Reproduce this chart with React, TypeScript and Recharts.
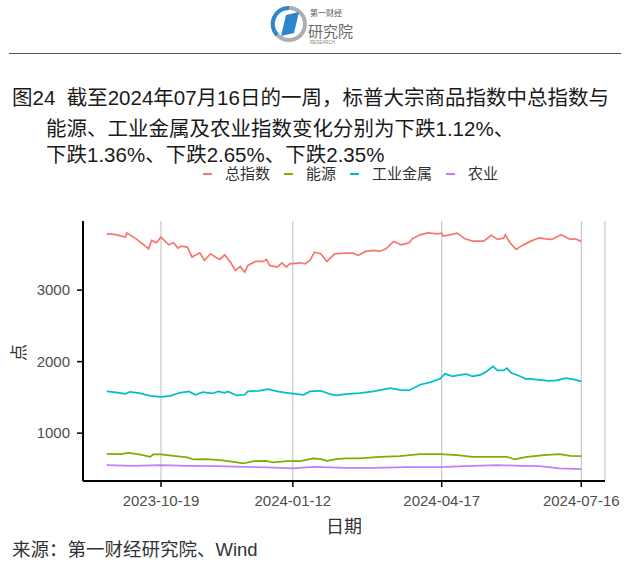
import React from "react";
import { LineChart, Line, XAxis, YAxis, CartesianGrid } from "recharts";

const FONT = '"Liberation Sans", "Noto Sans CJK SC", sans-serif';

const dateTicks = ["2023-10-19", "2024-01-12", "2024-04-17", "2024-07-16"];
const valueTicks = [1000, 2000, 3000];

// [date, index points]
const totalIndex: [string, number][] = [
  ["2023-09-14", 3787], ["2023-09-19", 3779], ["2023-09-26", 3741], ["2023-09-27", 3797],
  ["2023-10-03", 3717], ["2023-10-11", 3578], ["2023-10-13", 3695], ["2023-10-16", 3662],
  ["2023-10-19", 3741], ["2023-10-24", 3634], ["2023-10-27", 3662], ["2023-10-30", 3587],
  ["2023-11-01", 3615], ["2023-11-05", 3601], ["2023-11-08", 3462], ["2023-11-13", 3522],
  ["2023-11-16", 3415], ["2023-11-20", 3508], ["2023-11-24", 3448], ["2023-11-26", 3429],
  ["2023-11-29", 3494], ["2023-12-03", 3382], ["2023-12-06", 3275], ["2023-12-09", 3331],
  ["2023-12-12", 3252], ["2023-12-14", 3345], ["2023-12-19", 3401], ["2023-12-24", 3401],
  ["2023-12-26", 3429], ["2023-12-28", 3345], ["2024-01-02", 3322], ["2024-01-05", 3382],
  ["2024-01-08", 3322], ["2024-01-10", 3368], ["2024-01-17", 3382], ["2024-01-20", 3368],
  ["2024-01-23", 3415], ["2024-01-26", 3531], ["2024-01-30", 3508], ["2024-02-03", 3401],
  ["2024-02-08", 3508], ["2024-02-15", 3517], ["2024-02-20", 3517], ["2024-02-23", 3485],
  ["2024-02-28", 3541], ["2024-03-04", 3555], ["2024-03-08", 3541], ["2024-03-12", 3578],
  ["2024-03-17", 3681], ["2024-03-22", 3634], ["2024-03-27", 3662], ["2024-03-29", 3717],
  ["2024-04-03", 3773], ["2024-04-08", 3801], ["2024-04-14", 3787], ["2024-04-17", 3797],
  ["2024-04-18", 3755], ["2024-04-22", 3773], ["2024-04-27", 3797], ["2024-05-02", 3717],
  ["2024-05-07", 3685], ["2024-05-14", 3685], ["2024-05-19", 3765], ["2024-05-23", 3709],
  ["2024-05-27", 3727], ["2024-05-28", 3773], ["2024-05-31", 3662], ["2024-06-04", 3569],
  ["2024-06-08", 3625], ["2024-06-13", 3681], ["2024-06-19", 3731], ["2024-06-23", 3717],
  ["2024-06-27", 3709], ["2024-07-03", 3773], ["2024-07-09", 3709], ["2024-07-12", 3717],
  ["2024-07-16", 3681],
];

const energy: [string, number][] = [
  ["2023-09-14", 710], ["2023-09-23", 706], ["2023-09-28", 724], ["2023-10-05", 702],
  ["2023-10-12", 669], ["2023-10-14", 702], ["2023-10-19", 702], ["2023-10-27", 683],
  ["2023-11-05", 660], ["2023-11-09", 632], ["2023-11-17", 636], ["2023-11-26", 622],
  ["2023-12-05", 599], ["2023-12-11", 576], ["2023-12-18", 608], ["2023-12-26", 613],
  ["2023-12-30", 590], ["2024-01-08", 608], ["2024-01-17", 608], ["2024-01-25", 646],
  ["2024-01-30", 636], ["2024-02-03", 613], ["2024-02-09", 636], ["2024-02-15", 646],
  ["2024-02-24", 646], ["2024-03-08", 669], ["2024-03-21", 678], ["2024-04-03", 706],
  ["2024-04-16", 706], ["2024-04-27", 692], ["2024-05-07", 669], ["2024-05-20", 669],
  ["2024-05-29", 669], ["2024-06-03", 632], ["2024-06-11", 669], ["2024-06-22", 692],
  ["2024-07-02", 706], ["2024-07-09", 683], ["2024-07-16", 678],
];

const industrialMetals: [string, number][] = [
  ["2023-09-14", 1583], ["2023-09-20", 1569], ["2023-09-26", 1550], ["2023-09-29", 1578],
  ["2023-10-05", 1559], ["2023-10-12", 1522], ["2023-10-19", 1508], ["2023-10-25", 1522],
  ["2023-10-31", 1564], ["2023-11-06", 1583], ["2023-11-10", 1536], ["2023-11-15", 1573],
  ["2023-11-21", 1555], ["2023-11-25", 1583], ["2023-11-29", 1564], ["2023-12-01", 1583],
  ["2023-12-07", 1527], ["2023-12-12", 1536], ["2023-12-14", 1583], ["2023-12-21", 1592],
  ["2023-12-27", 1615], ["2024-01-02", 1583], ["2024-01-08", 1564], ["2024-01-15", 1545],
  ["2024-01-19", 1536], ["2024-01-23", 1583], ["2024-01-30", 1592], ["2024-02-05", 1545],
  ["2024-02-09", 1527], ["2024-02-15", 1545], ["2024-02-24", 1559], ["2024-03-04", 1583],
  ["2024-03-15", 1629], ["2024-03-21", 1606], ["2024-03-27", 1597], ["2024-04-03", 1676],
  ["2024-04-10", 1713], ["2024-04-16", 1760], ["2024-04-19", 1829], ["2024-04-24", 1793],
  ["2024-04-29", 1815], ["2024-05-03", 1825], ["2024-05-07", 1793], ["2024-05-12", 1815],
  ["2024-05-16", 1863], ["2024-05-20", 1933], ["2024-05-23", 1877], ["2024-05-27", 1877],
  ["2024-05-29", 1909], ["2024-06-01", 1839], ["2024-06-07", 1793], ["2024-06-10", 1760],
  ["2024-06-13", 1760], ["2024-06-19", 1745], ["2024-06-25", 1731], ["2024-06-30", 1737],
  ["2024-07-06", 1769], ["2024-07-11", 1751], ["2024-07-16", 1723],
];

const agriculture: [string, number][] = [
  ["2023-09-14", 552], ["2023-10-01", 543], ["2023-10-19", 552], ["2023-11-05", 543],
  ["2023-11-24", 538], ["2023-12-11", 529], ["2023-12-26", 520], ["2024-01-12", 506],
  ["2024-01-25", 529], ["2024-02-15", 515], ["2024-03-04", 515], ["2024-03-25", 524],
  ["2024-04-16", 524], ["2024-05-07", 543], ["2024-05-23", 552], ["2024-06-07", 543],
  ["2024-06-19", 538], ["2024-07-02", 506], ["2024-07-16", 496],
];

const series = [
  { name: "总指数", color: "#F8766D", points: totalIndex },
  { name: "能源", color: "#7CAE00", points: energy },
  { name: "工业金属", color: "#00BFC4", points: industrialMetals },
  { name: "农业", color: "#C77CFF", points: agriculture },
];

const toRows = (pts: [string, number][]) => pts.map(([d, v]) => ({ t: Date.parse(d), v }));

const allRows = series.flatMap((s) => toRows(s.points));
const tMin = Math.min(...allRows.map((r) => r.t));
const tMax = Math.max(...allRows.map((r) => r.t));
const vMin = Math.min(...allRows.map((r) => r.v));
const vMax = Math.max(...allRows.map((r) => r.v));
// ggplot-style 5% padding on both axes
const tPad = (tMax - tMin) * 0.05;
const vPad = (vMax - vMin) * 0.05;

const fmtDate = (t: number) => new Date(t).toISOString().slice(0, 10);

function Logo() {
  return (
    <svg width={640} height={50} style={{ position: "absolute", left: 0, top: 0 }}>
      <circle cx={289} cy={24} r={16} fill="none" stroke="#a9b0b6" strokeWidth={4} />
      <path d="M289 8 A16 16 0 0 0 277 35" fill="none" stroke="#2b86cf" strokeWidth={4} />
      <polygon points="281,36 286,15 299,12 294,33" fill="#2b86cf" />
      <text x={310} y={16} fontSize={8} fill="#555" fontFamily={FONT}>第一财经</text>
      <text x={308} y={37} fontSize={15} fill="#6b6b6b" fontFamily={FONT}>研究院</text>
      <text x={310} y={44} fontSize={4.5} fill="#888" fontFamily={FONT}>RESEARCH</text>
    </svg>
  );
}

export default function App() {
  const titleStyle: React.CSSProperties = {
    position: "absolute",
    fontFamily: FONT,
    fontSize: 20.5,
    lineHeight: "21px",
    color: "#1a1a1a",
    whiteSpace: "pre",
  };
  return (
    <div
      style={{
        position: "fixed",
        left: 0,
        top: 0,
        width: 640,
        height: 567,
        background: "#fff",
        overflow: "hidden",
      }}
    >
      <Logo />
      <div style={{ position: "absolute", left: 9, top: 53, width: 612, height: 1, background: "#555" }} />
      <div style={{ ...titleStyle, left: 12, top: 87 }}>图24  截至2024年07月16日的一周，标普大宗商品指数中总指数与</div>
      <div style={{ ...titleStyle, left: 46, top: 118 }}>能源、工业金属及农业指数变化分别为下跌1.12%、</div>
      <div style={{ ...titleStyle, left: 46, top: 144 }}>下跌1.36%、下跌2.65%、下跌2.35%</div>

      <div
        style={{
          position: "absolute",
          left: 203,
          top: 166,
          display: "flex",
          alignItems: "center",
          fontFamily: FONT,
          fontSize: 15,
          color: "#333",
          lineHeight: "15px",
        }}
      >
        {series.map((s) => (
          <React.Fragment key={s.name}>
            <span style={{ width: 9, height: 2, background: s.color, marginRight: 13 }} />
            <span style={{ marginRight: 14 }}>{s.name}</span>
          </React.Fragment>
        ))}
      </div>

      <div style={{ position: "absolute", left: 0, top: 0 }}>
        <LineChart width={640} height={567} margin={{ top: 221, right: 35, bottom: 0, left: 0 }}>
          <CartesianGrid horizontal={false} stroke="#bdbdbd" strokeWidth={1} />
          <XAxis
            type="number"
            dataKey="t"
            domain={[tMin - tPad, tMax + tPad]}
            ticks={dateTicks.map((d) => Date.parse(d))}
            tickFormatter={fmtDate}
            height={86}
            axisLine={{ stroke: "#000", strokeWidth: 2 }}
            tickLine={{ stroke: "#000", strokeWidth: 1.5 }}
            tickSize={6}
            tickMargin={8}
            tick={{ fill: "#4d4d4d", fontSize: 15, fontFamily: FONT }}
          />
          <YAxis
            type="number"
            dataKey="v"
            domain={[vMin - vPad, vMax + vPad]}
            ticks={valueTicks}
            width={83}
            axisLine={{ stroke: "#000", strokeWidth: 2 }}
            tickLine={{ stroke: "#000", strokeWidth: 1.5 }}
            tickSize={6}
            tickMargin={7}
            tick={{ fill: "#4d4d4d", fontSize: 15, fontFamily: FONT }}
          />
          {series.map((s) => (
            <Line
              key={s.name}
              name={s.name}
              data={toRows(s.points)}
              dataKey="v"
              type="linear"
              stroke={s.color}
              strokeWidth={1.7}
              dot={false}
              activeDot={false}
              isAnimationActive={false}
            />
          ))}
        </LineChart>
      </div>

      <div
        style={{
          position: "absolute",
          left: 9,
          top: 340,
          fontFamily: FONT,
          fontSize: 17,
          color: "#333",
          transform: "rotate(-90deg)",
        }}
      >
        点
      </div>
      <div
        style={{
          position: "absolute",
          left: 326,
          top: 512,
          fontFamily: FONT,
          fontSize: 18,
          color: "#333",
        }}
      >
        日期
      </div>
      <div
        style={{
          position: "absolute",
          left: 12,
          top: 539,
          fontFamily: FONT,
          fontSize: 18.5,
          color: "#333",
          lineHeight: "22px",
        }}
      >
        来源：第一财经研究院、Wind
      </div>
    </div>
  );
}
